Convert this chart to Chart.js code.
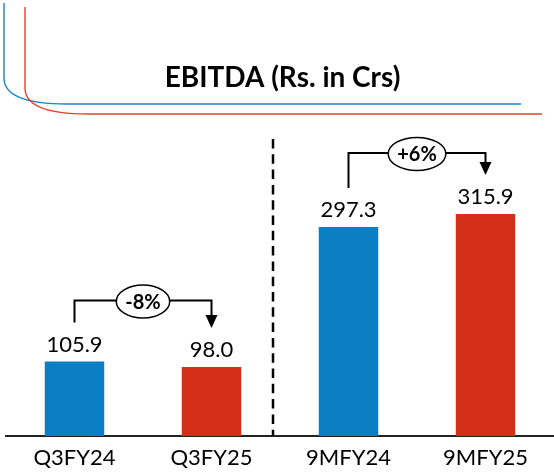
<!DOCTYPE html>
<html><head><meta charset="utf-8">
<script src="https://cdn.jsdelivr.net/npm/chart.js@4.4.1/dist/chart.umd.min.js"></script>
<style>html,body{margin:0;padding:0;background:#fff;} #wrap{width:554px;height:472px;position:relative;}</style>
</head><body><div id="wrap"><canvas id="c"></canvas></div>
<script>
const categories = ['Q3FY24', 'Q3FY25', '9MFY24', '9MFY25'];
const values = [105.9, 98.0, 297.3, 315.9];
const valueLabels = ['105.9', '98.0', '297.3', '315.9'];
const changePairs = [[0, 1], [2, 3]];
const changeLabels = ['-8%', '+6%'];
const barColors = ['#0B7FC4', '#D52F1A', '#0B7FC4', '#D52F1A'];
const titleText = 'EBITDA (Rs. in Crs)';
const yMax = 450;

const deco = {
  id: 'deco',
  beforeDraw(chart) {
    const ctx = chart.ctx;
    ctx.save();
    ctx.lineWidth = 1.4;
    ctx.strokeStyle = '#1A84CC';
    ctx.beginPath(); ctx.moveTo(4, 3); ctx.lineTo(4, 78); ctx.bezierCurveTo(4, 92, 18, 104, 67, 104); ctx.lineTo(521, 104); ctx.stroke();
    ctx.strokeStyle = '#E2432B';
    ctx.beginPath(); ctx.moveTo(25, 7); ctx.lineTo(25, 88); ctx.bezierCurveTo(25, 102, 39, 114, 88, 114); ctx.lineTo(542, 114); ctx.stroke();
    ctx.restore();
  },
  afterDatasetsDraw(chart) {
    const ctx = chart.ctx;
    const meta = chart.getDatasetMeta(0);
    const xs = chart.scales.x;
    ctx.save();
    ctx.font = '22px Lato'; ctx.fillStyle = '#000'; ctx.textAlign = 'center'; ctx.textBaseline = 'alphabetic';
    meta.data.forEach((bar, i) => ctx.fillText(valueLabels[i], bar.x, bar.y - 10));
    const dx = (xs.getPixelForValue(1) + xs.getPixelForValue(2)) / 2 - 7;
    ctx.setLineDash([9.5, 5.8]); ctx.lineWidth = 2.5; ctx.strokeStyle = '#000';
    ctx.beginPath(); ctx.moveTo(dx, 139); ctx.lineTo(dx, chart.chartArea.bottom); ctx.stroke();
    ctx.setLineDash([]);
    changePairs.forEach(([a, b], k) => {
      const A = meta.data[a], B = meta.data[b];
      const hy = Math.min(A.y, B.y) - 61;
      const ay = A.y - 39, by = B.y - 39;
      ctx.lineWidth = 2; ctx.strokeStyle = '#000'; ctx.fillStyle = '#000';
      ctx.beginPath(); ctx.moveTo(A.x, ay); ctx.lineTo(A.x, hy); ctx.lineTo(B.x, hy); ctx.lineTo(B.x, by - 12); ctx.stroke();
      ctx.beginPath(); ctx.moveTo(B.x - 6, by - 13); ctx.lineTo(B.x + 6, by - 13); ctx.lineTo(B.x, by); ctx.closePath(); ctx.fill();
      ctx.font = 'bold 20px Lato';
      const tw = ctx.measureText(changeLabels[k]).width;
      const cx = (A.x + B.x) / 2;
      ctx.beginPath(); ctx.ellipse(cx, hy + 1, tw / 2 + 9, 16.5, 0, 0, Math.PI * 2);
      ctx.fillStyle = '#fff'; ctx.fill(); ctx.lineWidth = 1.5; ctx.stroke();
      ctx.fillStyle = '#000'; ctx.textBaseline = 'middle'; ctx.fillText(changeLabels[k], cx, hy + 2);
      ctx.textBaseline = 'alphabetic';
    });
    ctx.restore();
  }
};

new Chart(document.getElementById('c'), {
  type: 'bar',
  data: { labels: categories, datasets: [{ data: values, backgroundColor: barColors, barPercentage: 0.434, categoryPercentage: 1 }] },
  options: {
    responsive: true, maintainAspectRatio: false, animation: false,
    layout: { padding: { left: 6, right: -5, top: 0, bottom: -8.4 } },
    plugins: {
      legend: { display: false }, tooltip: { enabled: false },
      title: { display: true, text: titleText, color: '#000', font: { family: 'Lato', size: 28, weight: 'bold' }, padding: { top: 61, bottom: 25 } }
    },
    scales: {
      x: { grid: { display: false, drawTicks: false }, border: { display: true, color: '#222', width: 2 },
           ticks: { color: '#000', font: { family: 'Lato', size: 22 }, padding: 9 } },
      y: { display: false, min: 0, max: yMax }
    }
  },
  plugins: [deco]
});
</script>
</body></html>
